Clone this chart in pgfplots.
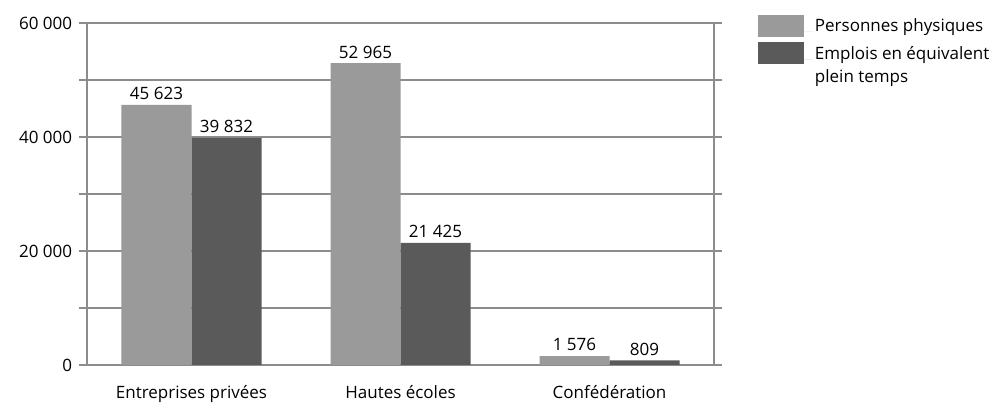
\documentclass[border=0pt]{standalone}
\usepackage{fontspec}
\setmainfont{Open Sans}
\usepackage{pgfplots}
\pgfplotsset{compat=1.18}
\definecolor{lightbar}{HTML}{9A9A9A}
\definecolor{darkbar}{HTML}{5A5A5A}
\definecolor{gridgray}{HTML}{8C8C8C}
\newcommand\ff{\fontsize{17}{23}\selectfont}
\begin{document}
\ff
\begin{tikzpicture}
\useasboundingbox (0,0) rectangle (1002pt,403pt);
\begin{axis}[
  at={(87pt,38pt)}, anchor=south west,
  scale only axis, width=627pt, height=342pt,
  ybar=0pt, bar width=70pt,
  xmin=-0.5, xmax=2.5, ymin=0, ymax=60000,
  xtick={0,1,2},
  xticklabels={Entreprises privées, Hautes écoles, Confédération},
  x tick style={draw=none},
  ytick={0,10000,20000,30000,40000,50000,60000},
  yticklabels={0,,20 000,,40 000,,60 000},
  y tick style={draw=gridgray, line width=1.2pt},
  tick align=outside, major tick length=8pt,
  ymajorgrids, grid style={draw=gridgray, line width=1.2pt},
  axis line style={draw=gridgray, line width=1.2pt},
  scaled y ticks=false,
  tick label style={font=\ff, text=black},
  xticklabel style={yshift=-7pt},
  yticklabel style={xshift=-1pt},
  /pgf/number format/assume math mode=true,
  nodes near coords,
  nodes near coords style={font=\ff, text=black, /pgf/number format/1000 sep={\ }, yshift=-1pt},
  legend style={at={(1.065,1.03)}, anchor=north west, draw=none, fill=none,
    font=\ff, nodes={anchor=base west}, row sep=4pt},
  legend cell align=left,
  legend image code/.code={\fill[#1] (0pt,-5pt) rectangle (46pt,17pt); \path (0pt,0pt) -- (55pt,0pt);},
]
\addplot[fill=lightbar, draw=none] coordinates {(0,45623) (1,52965) (2,1576)};
\addplot[fill=darkbar, draw=none] coordinates {(0,39832) (1,21425) (2,809)};
\addlegendentry{Personnes physiques}
\addlegendentry{\begin{tabular}[t]{@{}l@{}}Emplois en équivalent\\plein temps\end{tabular}}
\end{axis}
\end{tikzpicture}
\end{document}
